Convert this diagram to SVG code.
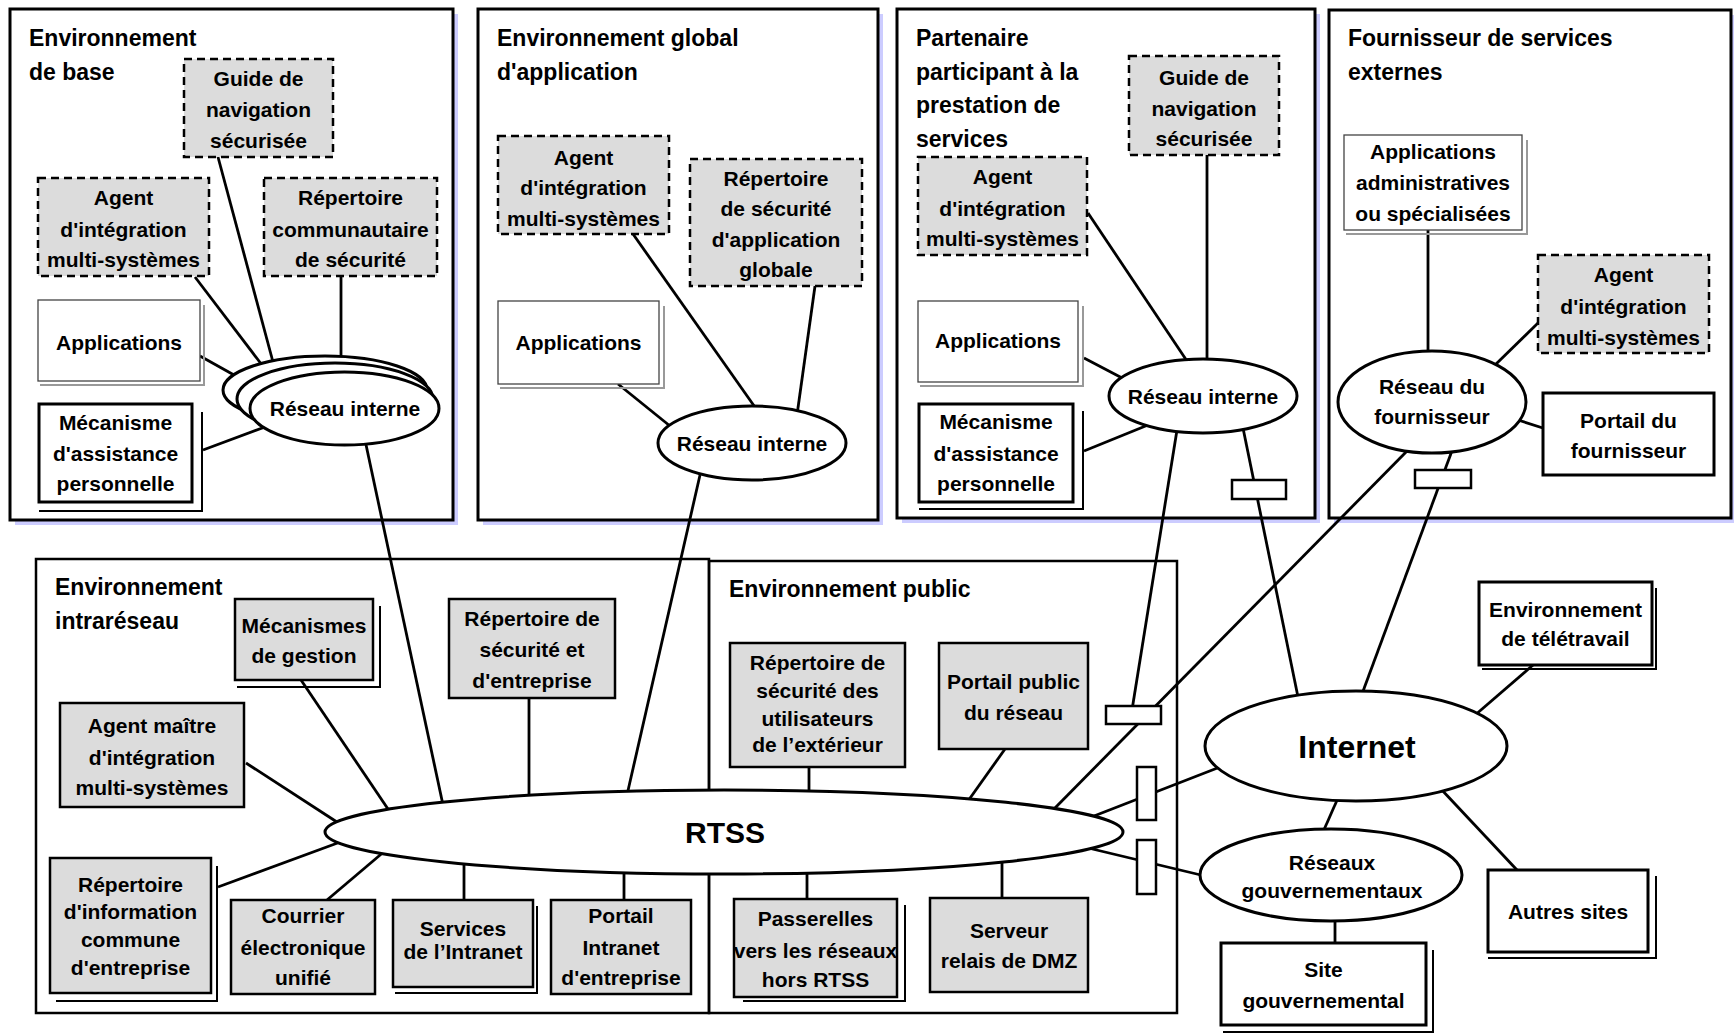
<svg xmlns="http://www.w3.org/2000/svg" width="1734" height="1034" viewBox="0 0 1734 1034">
<style>
.envsh{fill:#ccccff}
.env{fill:#fff;stroke:#000;stroke-width:3}
.zone{fill:none;stroke:#000;stroke-width:2.5}
.dash{fill:#dcdcdc;stroke:#000;stroke-width:2.5;stroke-dasharray:8 5}
.gray{fill:#dcdcdc;stroke:#000;stroke-width:2.5}
.thin{fill:#fff;stroke:#444;stroke-width:1.3}
.thinsh{fill:none;stroke:#999;stroke-width:2}
.thick{fill:#fff;stroke:#000;stroke-width:3}
.sh{fill:none;stroke:#000;stroke-width:2}
.ell{fill:#fff;stroke:#000;stroke-width:3}
.fw{fill:#fff;stroke:#000;stroke-width:2.5}
#connectors line{stroke:#000;stroke-width:2.8}
text{font-family:"Liberation Sans",Arial,Helvetica,sans-serif;font-weight:bold;font-size:21px;text-anchor:middle;fill:#000}
text.title{font-size:23px;text-anchor:start}
text.big{font-size:32px}
</style>

<!-- Containers -->
<g id="env-base">
<rect class="envsh" x="15" y="14" width="443" height="511"/>
<rect class="env" x="10" y="9" width="443" height="511"/>
<text class="title" x="29" y="46">Environnement</text>
<text class="title" x="29" y="80">de base</text>
</g>
<g id="env-global">
<rect class="envsh" x="483" y="14" width="400" height="511"/>
<rect class="env" x="478" y="9" width="400" height="511"/>
<text class="title" x="497" y="46">Environnement global</text>
<text class="title" x="497" y="80">d'application</text>
</g>
<g id="env-partenaire">
<rect class="envsh" x="902" y="14" width="418" height="509"/>
<rect class="env" x="897" y="9" width="418" height="509"/>
<text class="title" x="916" y="46">Partenaire</text>
<text class="title" x="916" y="80">participant à la</text>
<text class="title" x="916" y="113">prestation de</text>
<text class="title" x="916" y="147">services</text>
</g>
<g id="env-fournisseur">
<rect class="envsh" x="1334" y="15" width="402" height="508"/>
<rect class="env" x="1329" y="10" width="402" height="508"/>
<text class="title" x="1348" y="46">Fournisseur de services</text>
<text class="title" x="1348" y="80">externes</text>
</g>
<g id="env-intrareseau">
<rect class="zone" x="36" y="559" width="673" height="454"/>
<text class="title" x="55" y="595">Environnement</text>
<text class="title" x="55" y="629">intraréseau</text>
</g>
<g id="env-public">
<rect class="zone" x="709" y="561" width="468" height="452"/>
<text class="title" x="729" y="597">Environnement public</text>
</g>

<!-- Connectors -->
<g id="connectors">
<line x1="218" y1="157" x2="273" y2="362"/>
<line x1="195" y1="277" x2="262" y2="365"/>
<line x1="341" y1="277" x2="341" y2="360"/>
<line x1="200" y1="356" x2="234" y2="375"/>
<line x1="203" y1="450" x2="265" y2="427"/>
<line x1="365" y1="440" x2="443" y2="805"/>
<line x1="633" y1="234" x2="757" y2="410"/>
<line x1="815" y1="286" x2="797" y2="415"/>
<line x1="618" y1="384" x2="670" y2="426"/>
<line x1="700" y1="475" x2="627" y2="795"/>
<line x1="1207" y1="155" x2="1207" y2="362"/>
<line x1="1088" y1="213" x2="1189" y2="364"/>
<line x1="1084" y1="358" x2="1124" y2="379"/>
<line x1="1084" y1="451" x2="1148" y2="425"/>
<line x1="1177" y1="430" x2="1132" y2="710"/>
<line x1="1243" y1="428" x2="1298" y2="697"/>
<line x1="1428" y1="230" x2="1428" y2="355"/>
<line x1="1538" y1="323" x2="1494" y2="366"/>
<line x1="1518" y1="420" x2="1546" y2="429"/>
<line x1="1410" y1="448" x2="1052" y2="811"/>
<line x1="1453" y1="448" x2="1362" y2="694"/>
<line x1="301" y1="680" x2="390" y2="812"/>
<line x1="246" y1="763" x2="340" y2="824"/>
<line x1="218" y1="887" x2="343" y2="841"/>
<line x1="327" y1="900" x2="386" y2="850"/>
<line x1="464" y1="900" x2="464" y2="862"/>
<line x1="624" y1="900" x2="624" y2="868"/>
<line x1="529" y1="698" x2="529" y2="798"/>
<line x1="809" y1="767" x2="809" y2="796"/>
<line x1="1005" y1="749" x2="968" y2="801"/>
<line x1="807" y1="868" x2="807" y2="899"/>
<line x1="1002" y1="862" x2="1002" y2="898"/>
<line x1="1094" y1="816" x2="1220" y2="767"/>
<line x1="1084" y1="847" x2="1205" y2="876"/>
<line x1="1338" y1="798" x2="1323" y2="832"/>
<line x1="1474" y1="716" x2="1533" y2="665"/>
<line x1="1440" y1="788" x2="1517" y2="870"/>
<line x1="1335" y1="918" x2="1335" y2="943"/>
</g>

<!-- Base environment nodes -->
<g id="guide-base">
<rect class="dash" x="184" y="59" width="149" height="98"/>
<text x="258.5" y="86">Guide de</text>
<text x="258.5" y="117">navigation</text>
<text x="258.5" y="148">sécurisée</text>
</g>
<g id="agent-base">
<rect class="dash" x="38" y="178" width="171" height="98"/>
<text x="123.5" y="205">Agent</text>
<text x="123.5" y="237">d'intégration</text>
<text x="123.5" y="267">multi-systèmes</text>
</g>
<g id="repertoire-communautaire">
<rect class="dash" x="264" y="178" width="173" height="98"/>
<text x="350.5" y="205">Répertoire</text>
<text x="350.5" y="237">communautaire</text>
<text x="350.5" y="267">de sécurité</text>
</g>
<g id="applications-base">
<path class="thinsh" d="M204,305 V385 H40"/>
<rect class="thin" x="38" y="300" width="162" height="81"/>
<text x="119" y="350">Applications</text>
</g>
<g id="mecanisme-base">
<path class="sh" d="M202,412 V511 H39"/>
<rect class="thick" x="39" y="404" width="153" height="98"/>
<text x="115.5" y="430">Mécanisme</text>
<text x="115.5" y="461">d'assistance</text>
<text x="115.5" y="491">personnelle</text>
</g>
<g id="reseau-base">
<ellipse class="ell" cx="325" cy="390" rx="102" ry="34"/>
<ellipse class="ell" cx="335" cy="399" rx="98" ry="36"/>
<ellipse class="ell" cx="344.5" cy="408.5" rx="94.5" ry="36.5"/>
<text x="345" y="416">Réseau interne</text>
</g>

<!-- Global environment nodes -->
<g id="agent-global">
<rect class="dash" x="498" y="136" width="171" height="98"/>
<text x="583.5" y="165">Agent</text>
<text x="583.5" y="195">d'intégration</text>
<text x="583.5" y="226">multi-systèmes</text>
</g>
<g id="repertoire-global">
<rect class="dash" x="690" y="159" width="172" height="127"/>
<text x="776" y="186">Répertoire</text>
<text x="776" y="216">de sécurité</text>
<text x="776" y="247">d'application</text>
<text x="776" y="277">globale</text>
</g>
<g id="applications-global">
<path class="thinsh" d="M664,306 V388 H500"/>
<rect class="thin" x="498" y="301" width="161" height="83"/>
<text x="578.5" y="350">Applications</text>
</g>
<g id="reseau-global">
<ellipse class="ell" cx="752" cy="443" rx="94" ry="37"/>
<text x="752" y="451">Réseau interne</text>
</g>

<!-- Partner nodes -->
<g id="guide-partenaire">
<rect class="dash" x="1129" y="56" width="150" height="99"/>
<text x="1204" y="85">Guide de</text>
<text x="1204" y="116">navigation</text>
<text x="1204" y="146">sécurisée</text>
</g>
<g id="agent-partenaire">
<rect class="dash" x="918" y="157" width="169" height="98"/>
<text x="1002.5" y="184">Agent</text>
<text x="1002.5" y="216">d'intégration</text>
<text x="1002.5" y="246">multi-systèmes</text>
</g>
<g id="applications-partenaire">
<path class="thinsh" d="M1083,306 V386 H920"/>
<rect class="thin" x="918" y="301" width="160" height="81"/>
<text x="998" y="348">Applications</text>
</g>
<g id="mecanisme-partenaire">
<path class="sh" d="M1083,411 V509 H919"/>
<rect class="thick" x="919" y="404" width="154" height="98"/>
<text x="996" y="429">Mécanisme</text>
<text x="996" y="461">d'assistance</text>
<text x="996" y="491">personnelle</text>
</g>
<g id="reseau-partenaire">
<ellipse class="ell" cx="1203" cy="396" rx="94" ry="37"/>
<text x="1203" y="404">Réseau interne</text>
</g>
<g id="pare-feu-partenaire">
<rect class="fw" x="1232" y="480" width="54" height="19"/>
</g>

<!-- Fournisseur nodes -->
<g id="applications-admin">
<path class="thinsh" d="M1527,140 V234 H1346"/>
<rect class="thin" x="1344" y="135" width="178" height="95"/>
<text x="1433" y="159">Applications</text>
<text x="1433" y="190">administratives</text>
<text x="1433" y="221">ou spécialisées</text>
</g>
<g id="agent-fournisseur">
<rect class="dash" x="1538" y="255" width="171" height="98"/>
<text x="1623.5" y="282">Agent</text>
<text x="1623.5" y="314">d'intégration</text>
<text x="1623.5" y="345">multi-systèmes</text>
</g>
<g id="reseau-fournisseur">
<ellipse class="ell" cx="1432" cy="402" rx="94" ry="51"/>
<text x="1432" y="394">Réseau du</text>
<text x="1432" y="424">fournisseur</text>
</g>
<g id="portail-fournisseur">
<rect class="thick" x="1543" y="393" width="171" height="82"/>
<text x="1628.5" y="428">Portail du</text>
<text x="1628.5" y="458">fournisseur</text>
</g>
<g id="pare-feu-fournisseur">
<rect class="fw" x="1415" y="470" width="56" height="18"/>
</g>

<!-- Intraréseau nodes -->
<g id="mecanismes-gestion">
<path class="sh" d="M380,606 V687 H237"/>
<rect class="gray" x="235" y="599" width="138" height="81"/>
<text x="304" y="633">Mécanismes</text>
<text x="304" y="663">de gestion</text>
</g>
<g id="repertoire-entreprise">
<rect class="gray" x="449" y="599" width="166" height="99"/>
<text x="532" y="626">Répertoire de</text>
<text x="532" y="657">sécurité et</text>
<text x="532" y="688">d'entreprise</text>
</g>
<g id="agent-maitre">
<rect class="gray" x="60" y="703" width="184" height="104"/>
<text x="152" y="733">Agent maître</text>
<text x="152" y="765">d'intégration</text>
<text x="152" y="795">multi-systèmes</text>
</g>
<g id="repertoire-information">
<path class="sh" d="M217,866 V1001 H56"/>
<rect class="gray" x="50" y="858" width="161" height="135"/>
<text x="130.5" y="892">Répertoire</text>
<text x="130.5" y="919">d'information</text>
<text x="130.5" y="947">commune</text>
<text x="130.5" y="975">d'entreprise</text>
</g>
<g id="courrier">
<rect class="gray" x="231" y="900" width="144" height="94"/>
<text x="303" y="923">Courrier</text>
<text x="303" y="955">électronique</text>
<text x="303" y="985">unifié</text>
</g>
<g id="services-intranet">
<path class="sh" d="M537,906 V993 H395"/>
<rect class="gray" x="393" y="900" width="140" height="87"/>
<text x="463" y="936">Services</text>
<text x="463" y="959">de l’Intranet</text>
</g>
<g id="portail-intranet">
<rect class="gray" x="551" y="900" width="140" height="94"/>
<text x="621" y="923">Portail</text>
<text x="621" y="955">Intranet</text>
<text x="621" y="985">d'entreprise</text>
</g>

<!-- Public nodes -->
<g id="repertoire-utilisateurs">
<rect class="gray" x="730" y="643" width="175" height="124"/>
<text x="817.5" y="670">Répertoire de</text>
<text x="817.5" y="698">sécurité des</text>
<text x="817.5" y="726">utilisateurs</text>
<text x="817.5" y="752">de l’extérieur</text>
</g>
<g id="portail-public">
<rect class="gray" x="939" y="643" width="149" height="106"/>
<text x="1013.5" y="689">Portail public</text>
<text x="1013.5" y="720">du réseau</text>
</g>
<g id="passerelles">
<path class="sh" d="M905,905 V1001 H743"/>
<rect class="gray" x="734" y="899" width="163" height="98"/>
<text x="815.5" y="926">Passerelles</text>
<text x="815.5" y="958">vers les réseaux</text>
<text x="815.5" y="987">hors RTSS</text>
</g>
<g id="serveur-relais">
<rect class="gray" x="930" y="898" width="158" height="94"/>
<text x="1009" y="938">Serveur</text>
<text x="1009" y="968">relais de DMZ</text>
</g>
<g id="pare-feu-public">
<rect class="fw" x="1106" y="706" width="55" height="18"/>
</g>
<g id="pare-feu-internet">
<rect class="fw" x="1137" y="767" width="19" height="53"/>
</g>
<g id="pare-feu-gouv">
<rect class="fw" x="1137" y="840" width="19" height="54"/>
</g>

<!-- RTSS -->
<g id="rtss">
<ellipse class="ell" cx="724" cy="832" rx="399" ry="42"/>
<text class="big" x="725" y="843" style="font-size:30px">RTSS</text>
</g>

<!-- External -->
<g id="internet">
<ellipse class="ell" cx="1356" cy="746" rx="151" ry="55"/>
<text class="big" x="1357" y="758">Internet</text>
</g>
<g id="reseaux-gouv">
<ellipse class="ell" cx="1331" cy="875" rx="131" ry="46"/>
<text x="1332" y="870">Réseaux</text>
<text x="1332" y="898">gouvernementaux</text>
</g>
<g id="teletravail">
<path class="sh" d="M1656,588 V669 H1482"/>
<rect class="thick" x="1479" y="582" width="173" height="83"/>
<text x="1565.5" y="617">Environnement</text>
<text x="1565.5" y="646">de télétravail</text>
</g>
<g id="autres-sites">
<path class="sh" d="M1656,876 V958 H1488"/>
<rect class="thick" x="1488" y="870" width="160" height="82"/>
<text x="1568" y="919">Autres sites</text>
</g>
<g id="site-gouv">
<path class="sh" d="M1433,950 V1032 H1223"/>
<rect class="thick" x="1221" y="943" width="205" height="82"/>
<text x="1323.5" y="977">Site</text>
<text x="1323.5" y="1008">gouvernemental</text>
</g>
</svg>
